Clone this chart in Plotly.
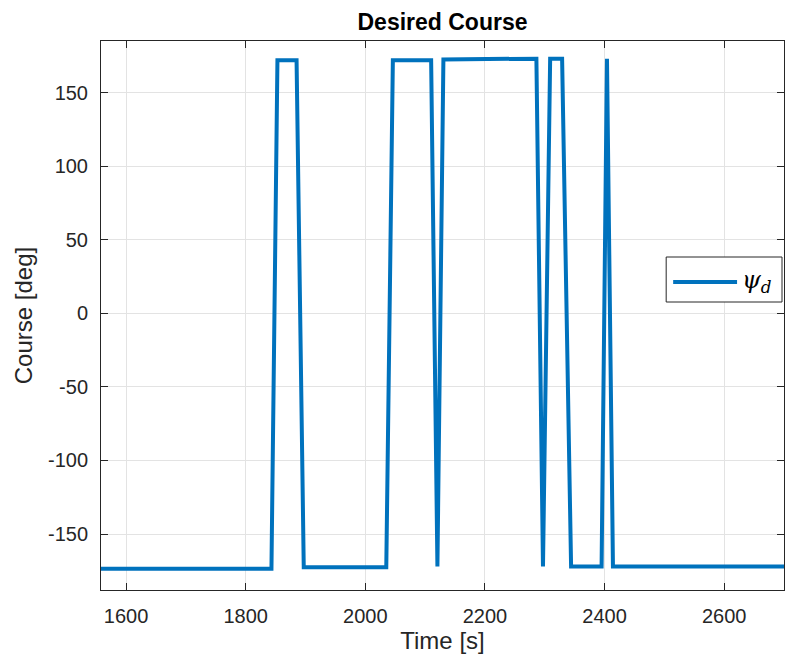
import plotly.graph_objects as go

# Data
time_s = [1500, 1843, 1853, 1885, 1897, 2035, 2046, 2110, 2120.5, 2130.5,
          2286, 2297, 2309, 2329, 2344, 2395, 2404, 2414, 2700]
course_deg = [-173.5, -173.5, 172, 172, -172.5, -172.5, 172, 172, -172, 172.5,
              173, -172, 173, 173, -172, -172, 173, -172, -172]

x_range = [1558, 2700]
y_range = [-188, 185]
x_ticks = [1600, 1800, 2000, 2200, 2400, 2600]
y_ticks = [-150, -100, -50, 0, 50, 100, 150]

blue = "#0072BD"
axcol = "#262626"
font_fam = "Liberation Sans, Arial, sans-serif"

fig = go.Figure()
fig.add_trace(go.Scatter(x=time_s, y=course_deg, mode="lines",
                         line=dict(color=blue, width=4), showlegend=False))

fig.update_layout(
    width=785, height=660,
    margin=dict(l=101, r=1, t=41, b=70),
    paper_bgcolor="white", plot_bgcolor="white",
    font=dict(family=font_fam, color=axcol, size=20),
    title=dict(text="<b>Desired Course</b>", x=0.5, xref="paper",
               xanchor="center", y=1 - 22 / 660, yref="container", yanchor="middle",
               font=dict(size=23, color="black")),
    showlegend=False,
)
axis_common = dict(showline=True, linecolor="#262626", linewidth=1, mirror="ticks",
                   ticks="inside", ticklen=7, tickcolor="#262626",
                   showgrid=True, gridcolor="#e3e3e3", gridwidth=1, zeroline=False,
                   tickfont=dict(size=20, color="#262626"))
fig.update_xaxes(range=x_range, tickvals=x_ticks, ticktext=[str(v) for v in x_ticks],
                 title=dict(text="Time [s]", font=dict(size=24, color="#262626"), standoff=4),
                 ticklabelstandoff=8, **axis_common)
fig.update_yaxes(range=y_range, tickvals=y_ticks, ticktext=[str(v) for v in y_ticks],
                 title=dict(text="Course [deg]", font=dict(size=24, color="#262626"), standoff=8),
                 ticklabelstandoff=8, **axis_common)

# Manual legend box (MATLAB style)
fig.add_shape(type="rect", xref="paper", yref="paper",
              x0=(667 - 101) / 684, x1=(783 - 101) / 684,
              y0=(590 - 302) / 549, y1=(590 - 257) / 549,
              line=dict(color="#262626", width=1), fillcolor="white", layer="above")
fig.add_shape(type="line", xref="paper", yref="paper",
              x0=(674 - 101) / 684, x1=(738 - 101) / 684,
              y0=(590 - 282) / 549, y1=(590 - 282) / 549,
              line=dict(color=blue, width=4), layer="above")
fig.add_annotation(xref="paper", yref="paper", x=(741 - 101) / 684, y=(590 - 281) / 549,
                   xanchor="left", yanchor="middle", showarrow=False,
                   text="<i>ψ</i><sub><i>d</i></sub>",
                   font=dict(family="DejaVu Serif, Liberation Serif, serif", size=24, color="black"))

fig.write_html("out.html")
